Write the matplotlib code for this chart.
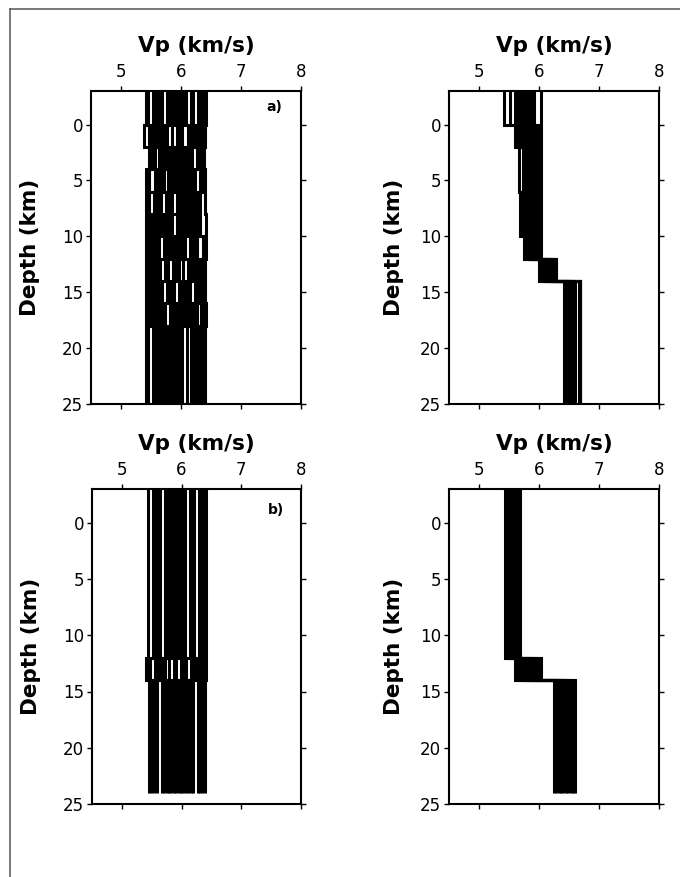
import matplotlib
matplotlib.use("Agg")
import matplotlib.pyplot as plt
from matplotlib.lines import Line2D

# ---------------- data ----------------
# Panel a (top-left): layer tops (km), model bottom, Vp per layer for each profile
TOPS_A = [-3, 0, 2, 4, 6, 8, 10, 12, 14, 16, 18]
BOTTOM_A = 25
VP_A = [
    [5.42, 5.45, 5.53, 5.57, 5.61, 5.645, 5.68, 5.76, 5.80, 5.84, 5.88, 5.92, 5.96, 6.00, 6.04, 6.08, 6.16, 6.20, 6.29, 6.33, 6.37, 6.41],
    [5.39, 5.47, 5.51, 5.55, 5.59, 5.63, 5.67, 5.71, 5.74, 5.77, 5.85, 5.94, 5.98, 6.02, 6.12, 6.16, 6.20, 6.24, 6.28, 6.32, 6.36, 6.40],
    [5.46, 5.50, 5.53, 5.56, 5.64, 5.68, 5.72, 5.765, 5.81, 5.85, 5.89, 5.935, 5.98, 6.02, 6.06, 6.105, 6.15, 6.19, 6.27, 6.31, 6.35, 6.39],
    [5.42, 5.46, 5.56, 5.60, 5.64, 5.675, 5.71, 5.79, 5.83, 5.87, 5.91, 5.95, 5.99, 6.03, 6.07, 6.11, 6.15, 6.19, 6.235, 6.32, 6.36, 6.40],
    [5.41, 5.44, 5.47, 5.55, 5.59, 5.63, 5.67, 5.75, 5.80, 5.85, 5.93, 5.97, 6.01, 6.05, 6.09, 6.13, 6.17, 6.21, 6.25, 6.29, 6.32, 6.40],
    [5.42, 5.465, 5.51, 5.555, 5.60, 5.645, 5.69, 5.735, 5.78, 5.82, 5.85, 5.93, 5.975, 6.02, 6.065, 6.11, 6.155, 6.20, 6.24, 6.28, 6.31, 6.415],
    [5.42, 5.46, 5.50, 5.54, 5.58, 5.63, 5.71, 5.75, 5.79, 5.83, 5.87, 5.91, 5.95, 5.99, 6.03, 6.07, 6.15, 6.19, 6.23, 6.27, 6.37, 6.41],
    [5.42, 5.46, 5.50, 5.54, 5.58, 5.62, 5.65, 5.73, 5.78, 5.86, 5.89, 5.92, 5.96, 6.035, 6.11, 6.15, 6.19, 6.23, 6.27, 6.31, 6.35, 6.40],
    [5.42, 5.465, 5.51, 5.555, 5.60, 5.64, 5.68, 5.76, 5.80, 5.84, 5.88, 5.96, 6.00, 6.04, 6.08, 6.12, 6.15, 6.23, 6.27, 6.31, 6.35, 6.40],
    [5.42, 5.465, 5.51, 5.555, 5.60, 5.645, 5.69, 5.73, 5.81, 5.855, 5.90, 5.945, 5.99, 6.035, 6.08, 6.125, 6.17, 6.215, 6.26, 6.34, 6.375, 6.41],
    [5.42, 5.45, 5.53, 5.575, 5.62, 5.665, 5.71, 5.755, 5.80, 5.845, 5.89, 5.935, 5.98, 6.02, 6.095, 6.165, 6.20, 6.24, 6.28, 6.32, 6.36, 6.40],
]

# Top-right panel
TOPS_C = [-3, 0, 2, 6, 10, 12, 14]
BOTTOM_C = 25
VP_C = [
    [5.42, 5.51, 5.60, 5.64, 5.68, 5.72, 5.76, 5.80, 5.84, 5.88, 5.92, 6.035],
    [5.60, 5.64, 5.68, 5.72, 5.76, 5.80, 5.84, 5.88, 5.92, 5.96, 6.00, 6.035],
    [5.665, 5.735, 5.77, 5.80, 5.83, 5.86, 5.89, 5.92, 5.95, 5.98, 6.01, 6.035],
    [5.685, 5.72, 5.76, 5.79, 5.82, 5.85, 5.88, 5.91, 5.94, 5.97, 6.00, 6.035],
    [5.745, 5.78, 5.81, 5.84, 5.87, 5.90, 5.93, 5.95, 5.97, 5.99, 6.01, 6.035],
    [5.995, 6.03, 6.06, 6.09, 6.12, 6.15, 6.18, 6.21, 6.24, 6.26, 6.28, 6.29],
    [6.415, 6.45, 6.48, 6.51, 6.54, 6.565, 6.595, 6.665, 6.675, 6.685, 6.69, 6.69],
]

# Panel b (bottom-left)
TOPS_B = [-3, 12, 14]
BOTTOM_B = 24
VP_B = [
    [5.43, 5.525, 5.56, 5.60, 5.64, 5.72, 5.76, 5.80, 5.84, 5.88, 5.92, 5.96, 6.00, 6.03, 6.06, 6.14, 6.18, 6.21, 6.29, 6.33, 6.37, 6.405],
    [5.405, 5.44, 5.47, 5.55, 5.59, 5.63, 5.67, 5.72, 5.795, 5.87, 5.91, 5.99, 6.03, 6.07, 6.15, 6.19, 6.23, 6.27, 6.31, 6.35, 6.38, 6.405],
    [5.45, 5.49, 5.53, 5.585, 5.67, 5.71, 5.75, 5.79, 5.83, 5.87, 5.91, 5.95, 5.99, 6.03, 6.07, 6.11, 6.15, 6.19, 6.27, 6.31, 6.35, 6.395],
]

# Bottom-right panel
TOPS_D = [-3, 12, 14]
BOTTOM_D = 24
VP_D = [
    [5.425, 5.45, 5.48, 5.51, 5.54, 5.57, 5.60, 5.63, 5.655, 5.675],
    [5.595, 5.645, 5.695, 5.745, 5.795, 5.845, 5.895, 5.945, 5.99, 6.025],
    [6.245, 6.285, 6.325, 6.365, 6.405, 6.445, 6.485, 6.525, 6.565, 6.595],
]

X_TICKS = [5, 6, 7, 8]
Y_TICKS = [0, 5, 10, 15, 20, 25]
X_LABEL = "Vp (km/s)"
Y_LABEL = "Depth (km)"

# ---------------- figure ----------------
W, H = 680, 877
fig = plt.figure(figsize=(W / 100, H / 100), dpi=100)
fig.patch.set_facecolor("white")


def axes_px(left, top, right, bottom):
    return fig.add_axes([left / W, 1 - bottom / H, (right - left) / W, (bottom - top) / H])


def draw_panel(ax, tops, bottom, layers, label=None, label_xy=None, depth_x=None):
    bounds = list(tops) + [bottom]
    nprof = len(layers[0])
    for i in range(nprof):
        xs, ys = [], []
        for k in range(len(tops)):
            xs += [layers[k][i], layers[k][i]]
            ys += [bounds[k], bounds[k + 1]]
        ax.plot(xs, ys, color="black", lw=2.2, solid_capstyle="butt",
                solid_joinstyle="miter", zorder=2)
    ax.set_xlim(4.5, 8.0)
    ax.set_ylim(25, -3)
    ax.set_xticks(X_TICKS)
    ax.set_yticks(Y_TICKS)
    ax.tick_params(axis="x", top=True, bottom=True, labeltop=True, labelbottom=False,
                   direction="out", length=3.5, width=1.0, pad=4, labelsize=12)
    ax.tick_params(axis="y", left=True, right=True, labelleft=True, labelright=False,
                   direction="out", length=3.5, width=1.0, pad=2, labelsize=12)
    for s in ax.spines.values():
        s.set_linewidth(1.5)
        s.set_zorder(3)
    ax.text(0.5, 1 + 45 / 313, X_LABEL, transform=ax.transAxes, ha="center", va="center",
            fontsize=15.5, fontweight="bold")
    ax.text(depth_x, 0.5, Y_LABEL, transform=ax.transAxes, ha="center", va="center",
            rotation=90, fontsize=15.5, fontweight="bold")
    if label:
        ax.text(label_xy[0], label_xy[1], label, transform=ax.transAxes, ha="center",
                va="center", fontsize=10, fontweight="bold")


ax_a = axes_px(91, 91, 301, 404)
ax_c = axes_px(449, 91, 659, 404)
ax_b = axes_px(92, 489, 301, 804)
ax_d = axes_px(449, 489, 659, 804)

draw_panel(ax_a, TOPS_A, BOTTOM_A, VP_A, "a)", (0.871, 0.949), depth_x=-0.29)
draw_panel(ax_c, TOPS_C, BOTTOM_C, VP_C, None, None, depth_x=-0.262)
draw_panel(ax_b, TOPS_B, BOTTOM_B, VP_B, "b)", (0.88, 0.933), depth_x=-0.29)
draw_panel(ax_d, TOPS_D, BOTTOM_D, VP_D, None, None, depth_x=-0.262)

# outer frame (left and top edges)
fig.add_artist(Line2D([10 / W, 1.0], [1 - 9 / H, 1 - 9 / H], transform=fig.transFigure,
                      color="#555555", lw=1.1))
fig.add_artist(Line2D([10 / W, 10 / W], [1 - 9 / H, 0.0], transform=fig.transFigure,
                      color="#555555", lw=1.1))

fig.savefig("out.png", dpi=100, facecolor="white")
